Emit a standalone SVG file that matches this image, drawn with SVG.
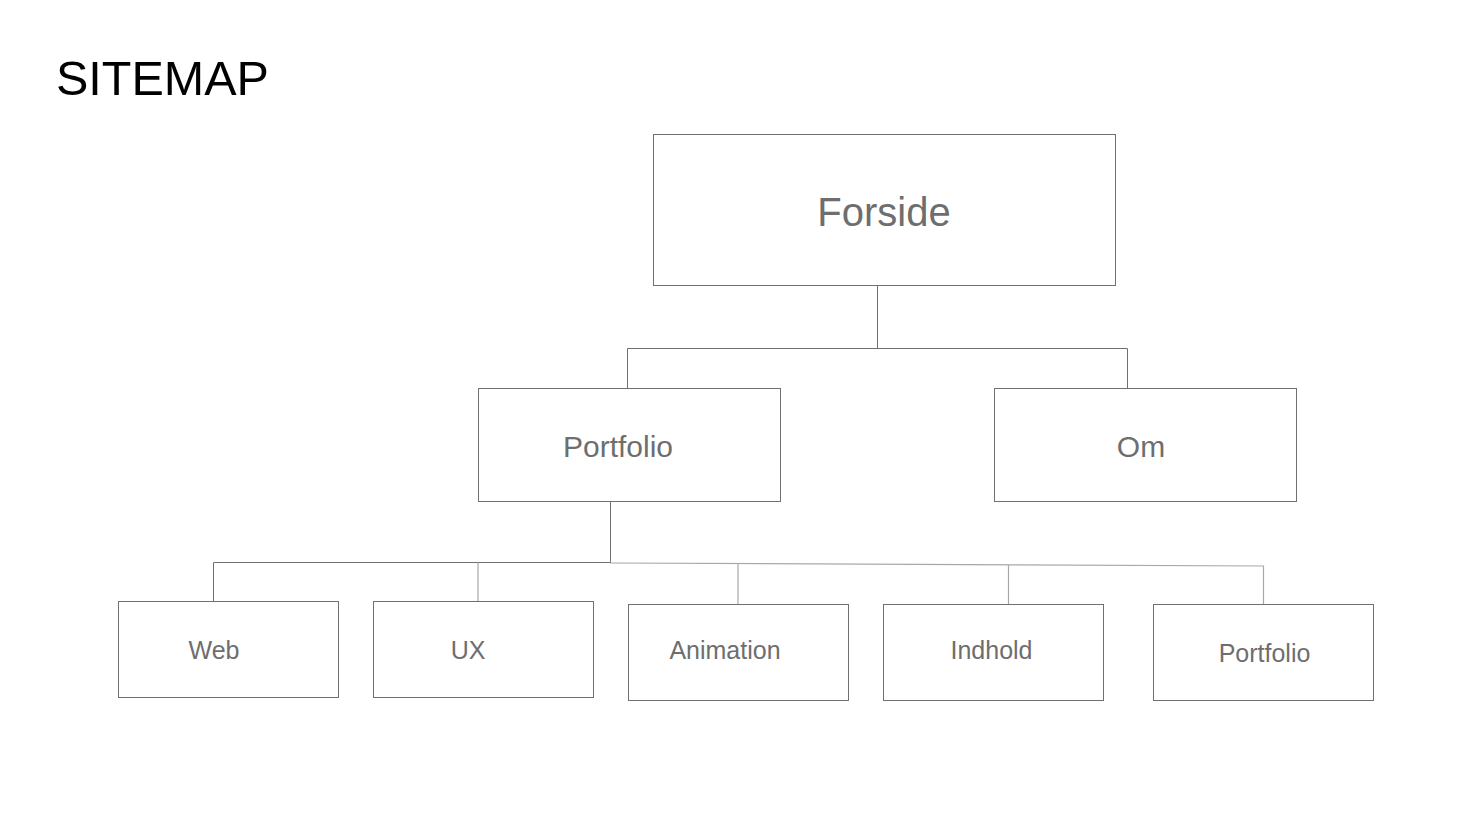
<svg xmlns="http://www.w3.org/2000/svg" width="1472" height="840" viewBox="0 0 1472 840">
<style>
.box{fill:#fff;stroke:#707070;stroke-width:1}
.lbl{font-family:"Liberation Sans",Arial,sans-serif;fill:#6e6e6e;text-anchor:middle}
.ln{fill:none;stroke:#707070;stroke-width:1}
.lt{fill:none;stroke:#a8a8a8;stroke-width:1.2}
</style>
<rect width="1472" height="840" fill="#fff"/>
<text x="56" y="95" font-family="Liberation Sans, Arial, sans-serif" font-size="48.5" fill="#000">SITEMAP</text>
<g id="connectors">
<path class="ln" d="M877.5 286V348.5M627.5 388V348.5H1127.5V388"/>
<path class="ln" d="M610.5 502V563"/>
<path class="ln" d="M213.5 601V562.5H610"/>
<path class="lt" d="M610 563L1264 566M478 562.5V601M738 564V604M1008.5 565V604M1263.5 566V604"/>
</g>
<g id="forside"><rect class="box" x="653.5" y="134.5" width="462" height="151"/><text class="lbl" x="884" y="226" font-size="40">Forside</text></g>
<g id="portfolio"><rect class="box" x="478.5" y="388.5" width="302" height="113"/><text class="lbl" x="618" y="457" font-size="30">Portfolio</text></g>
<g id="om"><rect class="box" x="994.5" y="388.5" width="302" height="113"/><text class="lbl" x="1141" y="457" font-size="30">Om</text></g>
<g id="web"><rect class="box" x="118.5" y="601.5" width="220" height="96"/><text class="lbl" x="214" y="659" font-size="25">Web</text></g>
<g id="ux"><rect class="box" x="373.5" y="601.5" width="220" height="96"/><text class="lbl" x="468" y="659" font-size="25">UX</text></g>
<g id="animation"><rect class="box" x="628.5" y="604.5" width="220" height="96"/><text class="lbl" x="725" y="659" font-size="25">Animation</text></g>
<g id="indhold"><rect class="box" x="883.5" y="604.5" width="220" height="96"/><text class="lbl" x="991.5" y="659" font-size="25">Indhold</text></g>
<g id="portfolio2"><rect class="box" x="1153.5" y="604.5" width="220" height="96"/><text class="lbl" x="1264.5" y="662" font-size="25">Portfolio</text></g>
</svg>
